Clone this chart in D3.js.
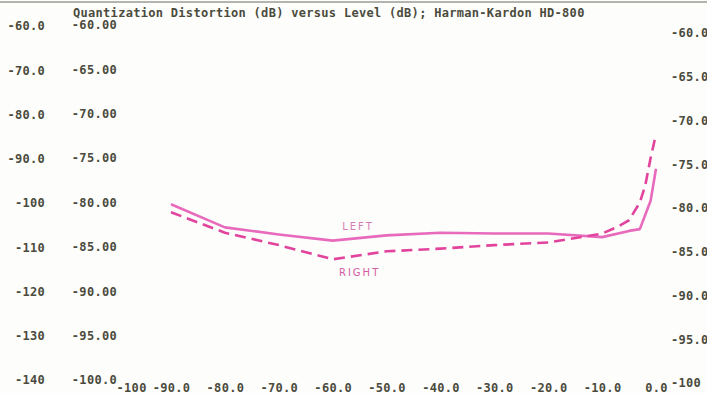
<!DOCTYPE html>
<html>
<head>
<meta charset="utf-8">
<script src="https://cdn.jsdelivr.net/npm/d3@7"></script>
<style>
  html, body { margin: 0; padding: 0; background: #fdfdfb; }
  svg { display: block; }
  .lbl text { font-family: "DejaVu Sans Mono", monospace; font-weight: bold; font-size: 12px; fill: #4b4b3d; letter-spacing: 0.3px; }
</style>
</head>
<body>
<svg id="chart" width="707" height="393"></svg>
<script>
// ---- data ----
const titleText = "Quantization Distortion (dB) versus Level (dB); Harman-Kardon HD-800";

const xTicks = [-100, -90, -80, -70, -60, -50, -40, -30, -20, -10, 0];
const xLabels = ["-100", "-90.0", "-80.0", "-70.0", "-60.0", "-50.0", "-40.0", "-30.0", "-20.0", "-10.0", "0.0"];

const leftTicks = [-60, -70, -80, -90, -100, -110, -120, -130, -140];
const leftLabels = ["-60.0", "-70.0", "-80.0", "-90.0", "-100", "-110", "-120", "-130", "-140"];

const midTicks = [-60, -65, -70, -75, -80, -85, -90, -95, -100];
const midLabels = ["-60.00", "-65.00", "-70.00", "-75.00", "-80.00", "-85.00", "-90.00", "-95.00", "-100.0"];

const rightTicks = [-60, -65, -70, -75, -80, -85, -90, -95, -100];
const rightLabels = ["-60.0", "-65.0", "-70.0", "-75.0", "-80.0", "-85.0", "-90.0", "-95.0", "-100"];

const levelLeft = [-90, -80, -70, -60, -50, -40, -30, -20, -10, -5, -3, -1, 0];
const distLeft  = [-80.2, -82.8, -83.6, -84.3, -83.7, -83.4, -83.5, -83.5, -83.9, -83.2, -83.0, -79.8, -76.2];

const levelRight = [-90, -80, -70, -60, -50, -40, -30, -20, -10, -7, -5, -3, -2, -1, 0];
const distRight  = [-81.1, -83.4, -84.8, -86.4, -85.5, -85.2, -84.8, -84.5, -83.5, -82.7, -82.0, -80.0, -78.1, -75.0, -72.3];

// ---- scales ----
const svg = d3.select("#chart");
const x = d3.scaleLinear().domain([-90, 0]).range([171, 656]);
const yL = d3.scaleLinear().domain([-60, -140]).range([26, 380]);
const yM = d3.scaleLinear().domain([-60, -100]).range([25, 380]);
const yR = d3.scaleLinear().domain([-60, -100]).range([33, 383]);

// scan edge line at top
svg.append("line").attr("x1", 0).attr("x2", 707).attr("y1", 2).attr("y2", 2)
  .attr("stroke", "#b4b4ae").attr("stroke-width", 2);

// title
svg.append("g").attr("class", "lbl").append("text")
  .attr("x", 73).attr("y", 17).text(titleText);

function styleAxis(g) {
  g.select(".domain").remove();
  g.attr("font-family", null).attr("font-size", null);
  g.selectAll("line").remove();
}

svg.append("g").attr("class", "lbl").attr("transform", "translate(45,0)")
  .call(d3.axisLeft(yL).tickValues(leftTicks).tickFormat((d, i) => leftLabels[i]).tickSize(0).tickPadding(0))
  .call(styleAxis);

svg.append("g").attr("class", "lbl").attr("transform", "translate(117,0)")
  .call(d3.axisLeft(yM).tickValues(midTicks).tickFormat((d, i) => midLabels[i]).tickSize(0).tickPadding(0))
  .call(styleAxis);

svg.append("g").attr("class", "lbl").attr("transform", "translate(671,0)")
  .call(d3.axisRight(yR).tickValues(rightTicks).tickFormat((d, i) => rightLabels[i]).tickSize(0).tickPadding(0))
  .call(styleAxis);

const xg = svg.append("g").attr("class", "lbl").attr("transform", "translate(0,383)")
  .call(d3.axisBottom(x).tickValues(xTicks).tickFormat((d, i) => xLabels[i]).tickSize(0).tickPadding(0))
  .call(styleAxis);
xg.selectAll("text").attr("dx", d => d === -100 ? 14 : 0);

// ---- lines ----
const line = d3.line().x(d => x(d[0])).y(d => yM(d[1]));

svg.append("path")
  .datum(levelLeft.map((v, i) => [v, distLeft[i]]))
  .attr("d", line)
  .attr("fill", "none")
  .attr("stroke", "#e86abd")
  .attr("stroke-width", 2.6)
  .attr("stroke-linejoin", "round");

svg.append("path")
  .datum(levelRight.map((v, i) => [v, distRight[i]]))
  .attr("d", line)
  .attr("fill", "none")
  .attr("stroke", "#e2449d")
  .attr("stroke-width", 2.6)
  .attr("stroke-dasharray", "11,6");

// series labels
svg.append("text").attr("x", x(-55.3)).attr("y", yM(-84.3) - 11)
  .attr("text-anchor", "middle")
  .attr("font-family", "DejaVu Sans").attr("font-size", 10)
  .attr("letter-spacing", 2).attr("fill", "#d67cb6")
  .text("LEFT");
svg.append("text").attr("x", x(-55)).attr("y", yM(-86.4) + 17)
  .attr("text-anchor", "middle")
  .attr("font-family", "DejaVu Sans").attr("font-size", 10)
  .attr("letter-spacing", 2).attr("fill", "#d25ca4")
  .text("RIGHT");
</script>
</body>
</html>
